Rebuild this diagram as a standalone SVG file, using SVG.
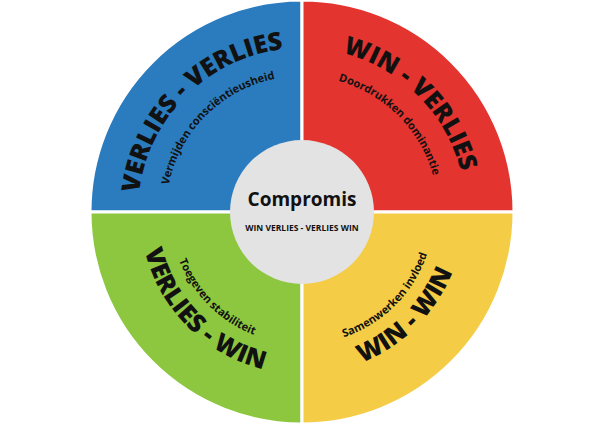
<svg xmlns="http://www.w3.org/2000/svg" width="600" height="425" viewBox="0 0 600 425">
<style>
.big{font-family:"Open Sans","Liberation Sans",sans-serif;font-weight:800;font-size:25px;fill:#111}
.sub{font-family:"Open Sans","Liberation Sans",sans-serif;font-weight:700;font-size:11px;fill:#111}
.q{stroke:#fff;stroke-width:3}
</style>
<defs>
<path id="tl1" d="M138,212 A164,164 0 0 1 302,48"/>
<path id="tl2" d="M166,212 A136,136 0 0 1 302,76"/>
<path id="tr1" d="M302,48 A164,164 0 0 1 466,212"/>
<path id="tr2" d="M302,76 A136,136 0 0 1 438,212"/>
<path id="bl1" d="M140,212 A162,162 0 0 0 302,374"/>
<path id="bl2" d="M170,212 A132,132 0 0 0 302,344"/>
<path id="br1" d="M302,374 A162,162 0 0 0 464,212"/>
<path id="br2" d="M302,344 A132,132 0 0 0 434,212"/>
</defs>
<g id="quadrants">
<path class="q" d="M302,212 L90,212 A212,212 0 0 1 302,0 Z" fill="#2b7bbf"/>
<path class="q" d="M302,212 L302,0 A212,212 0 0 1 514,212 Z" fill="#e3342f"/>
<path class="q" d="M302,212 L90,212 A212,212 0 0 0 302,424 Z" fill="#8dc63f"/>
<path class="q" d="M302,212 L302,424 A212,212 0 0 0 514,212 Z" fill="#f5cc45"/>
</g>
<g id="labels">
<text class="big"><textPath href="#tl1" startOffset="50%" text-anchor="middle">VERLIES - VERLIES</textPath></text>
<text class="sub"><textPath href="#tl2" startOffset="50%" text-anchor="middle">Vermijden consciëntieusheid</textPath></text>
<text class="big"><textPath href="#tr1" startOffset="50%" text-anchor="middle">WIN - VERLIES</textPath></text>
<text class="sub"><textPath href="#tr2" startOffset="50%" text-anchor="middle">Doordrukken dominantie</textPath></text>
<text class="big"><textPath href="#bl1" startOffset="50%" text-anchor="middle">VERLIES - WIN</textPath></text>
<text class="sub"><textPath href="#bl2" startOffset="50%" text-anchor="middle">Toegeven stabiliteit</textPath></text>
<text class="big"><textPath href="#br1" startOffset="50%" text-anchor="middle">WIN - WIN</textPath></text>
<text class="sub"><textPath href="#br2" startOffset="50%" text-anchor="middle">Samenwerken invloed</textPath></text>
</g>
<g id="center">
<circle cx="302" cy="212" r="72" fill="#e3e3e3"/>
<text x="302" y="206" text-anchor="middle" style="font-family:'Open Sans','Liberation Sans',sans-serif;font-weight:700;font-size:19px;fill:#111">Compromis</text>
<text x="302" y="231" text-anchor="middle" style="font-family:'Open Sans','Liberation Sans',sans-serif;font-weight:700;font-size:8.5px;fill:#111">WIN VERLIES - VERLIES WIN</text>
</g>
</svg>
